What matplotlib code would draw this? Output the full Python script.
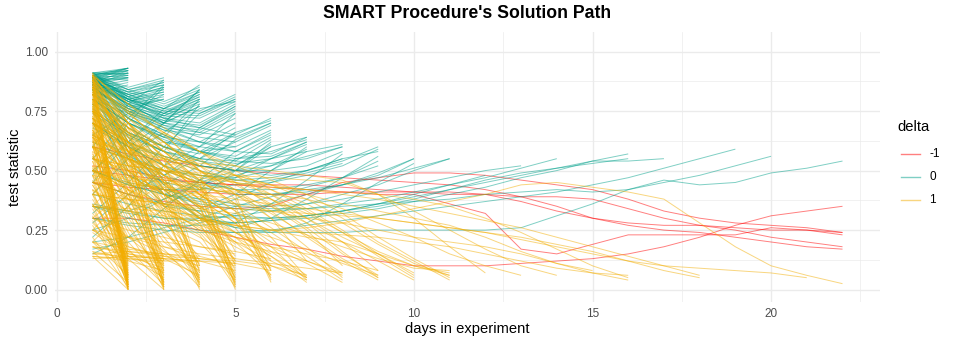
import numpy as np
import matplotlib
matplotlib.use("Agg")
import matplotlib.pyplot as plt
from matplotlib.lines import Line2D

plt.rcParams['font.family'] = ['Liberation Sans', 'DejaVu Sans']

# ---------------- data (test statistic per day, each path starts at day 1) ----------------
delta_labels = ["-1", "0", "1"]
delta_colors = ["#FF0000", "#00A08A", "#F2AD00"]

red_paths = [
    [0.30, 0.30, 0.28, 0.25, 0.22, 0.19, 0.17, 0.14, 0.12, 0.10, 0.10, 0.10, 0.11, 0.12, 0.13, 0.15, 0.18, 0.22, 0.27, 0.31, 0.33, 0.35],
    [0.45, 0.40, 0.37, 0.35, 0.34, 0.35, 0.40, 0.45, 0.47, 0.49, 0.49, 0.48, 0.46, 0.44, 0.42, 0.38, 0.33, 0.30, 0.28, 0.27, 0.26, 0.24],
    [0.52, 0.50, 0.47, 0.45, 0.44, 0.43, 0.42, 0.41, 0.40, 0.40, 0.36, 0.32, 0.17, 0.15, 0.19, 0.23, 0.23, 0.23, 0.23, 0.26, 0.25, 0.23],
    [0.45, 0.43, 0.42, 0.41, 0.40, 0.40, 0.40, 0.41, 0.41, 0.41, 0.40, 0.40, 0.39, 0.39, 0.38, 0.34, 0.30, 0.27, 0.25, 0.22, 0.20, 0.18],
    [0.50, 0.48, 0.46, 0.45, 0.44, 0.44, 0.44, 0.43, 0.42, 0.41, 0.41, 0.40, 0.37, 0.33, 0.30, 0.27, 0.25, 0.24, 0.22, 0.20, 0.18, 0.17],
    [0.60, 0.57, 0.54, 0.52, 0.50, 0.49, 0.48, 0.47, 0.46, 0.45, 0.44, 0.42, 0.39, 0.35, 0.30, 0.28, 0.27, 0.27, 0.26, 0.25, 0.25, 0.24],
]

teal_end2 = [
    [0.91, 0.93], [0.90, 0.93], [0.91, 0.92], [0.89, 0.92], [0.90, 0.92], [0.88, 0.91],
    [0.90, 0.91], [0.89, 0.90], [0.87, 0.90], [0.91, 0.90], [0.88, 0.89], [0.86, 0.89],
    [0.89, 0.88], [0.85, 0.88], [0.90, 0.93], [0.87, 0.92], [0.84, 0.87], [0.82, 0.86],
    [0.91, 0.91], [0.88, 0.93], [0.86, 0.91], [0.90, 0.89], [0.89, 0.93], [0.87, 0.89],
]
teal_end3 = [
    [0.90, 0.85, 0.89], [0.89, 0.84, 0.88], [0.91, 0.84, 0.87], [0.88, 0.83, 0.87],
    [0.90, 0.83, 0.86], [0.87, 0.82, 0.86], [0.89, 0.81, 0.85], [0.86, 0.82, 0.84],
    [0.88, 0.80, 0.84], [0.85, 0.80, 0.83], [0.90, 0.79, 0.82], [0.87, 0.78, 0.81],
    [0.84, 0.77, 0.80], [0.91, 0.81, 0.85], [0.86, 0.79, 0.83], [0.89, 0.76, 0.80],
    [0.55, 0.72, 0.86], [0.60, 0.78, 0.88], [0.48, 0.70, 0.85], [0.65, 0.74, 0.82],
]
teal_end4 = [
    [0.90, 0.84, 0.79, 0.85], [0.88, 0.83, 0.78, 0.84], [0.89, 0.82, 0.77, 0.83],
    [0.87, 0.80, 0.76, 0.83], [0.90, 0.81, 0.76, 0.82], [0.86, 0.80, 0.75, 0.81],
    [0.88, 0.79, 0.74, 0.81], [0.85, 0.78, 0.74, 0.80], [0.89, 0.77, 0.73, 0.79],
    [0.84, 0.76, 0.72, 0.78], [0.87, 0.78, 0.70, 0.77], [0.82, 0.75, 0.71, 0.79],
    [0.91, 0.80, 0.73, 0.80], [0.80, 0.74, 0.70, 0.77], [0.87, 0.66, 0.58, 0.78],
    [0.89, 0.72, 0.64, 0.80], [0.85, 0.60, 0.70, 0.84], [0.40, 0.55, 0.70, 0.84],
    [0.45, 0.62, 0.74, 0.82], [0.50, 0.62, 0.76, 0.86],
]
teal_end5 = [
    [0.89, 0.82, 0.76, 0.75, 0.82], [0.90, 0.80, 0.75, 0.74, 0.81], [0.88, 0.81, 0.74, 0.73, 0.80],
    [0.87, 0.79, 0.73, 0.72, 0.79], [0.86, 0.78, 0.72, 0.70, 0.78], [0.89, 0.77, 0.71, 0.69, 0.77],
    [0.85, 0.76, 0.70, 0.68, 0.76], [0.84, 0.75, 0.69, 0.67, 0.75], [0.88, 0.74, 0.68, 0.66, 0.74],
    [0.83, 0.73, 0.67, 0.65, 0.72], [0.80, 0.70, 0.64, 0.62, 0.70], [0.86, 0.72, 0.62, 0.60, 0.68],
    [0.78, 0.68, 0.60, 0.57, 0.65], [0.75, 0.65, 0.58, 0.55, 0.62], [0.82, 0.70, 0.63, 0.58, 0.60],
    [0.88, 0.62, 0.48, 0.55, 0.66], [0.90, 0.70, 0.52, 0.60, 0.74], [0.82, 0.56, 0.66, 0.76, 0.79],
    [0.32, 0.45, 0.60, 0.74, 0.80], [0.22, 0.35, 0.52, 0.68, 0.77],
]
teal_end6 = [
    [0.88, 0.80, 0.72, 0.68, 0.65, 0.72], [0.86, 0.78, 0.70, 0.66, 0.64, 0.70],
    [0.84, 0.76, 0.69, 0.64, 0.62, 0.69], [0.85, 0.74, 0.67, 0.62, 0.60, 0.67],
    [0.82, 0.72, 0.65, 0.60, 0.58, 0.66], [0.80, 0.70, 0.62, 0.58, 0.56, 0.64],
    [0.78, 0.66, 0.60, 0.55, 0.54, 0.63], [0.74, 0.64, 0.58, 0.54, 0.52, 0.61],
    [0.70, 0.60, 0.56, 0.52, 0.50, 0.60], [0.86, 0.58, 0.44, 0.52, 0.63, 0.70],
    [0.84, 0.55, 0.40, 0.38, 0.50, 0.62], [0.28, 0.40, 0.48, 0.58, 0.66, 0.71],
    [0.15, 0.22, 0.34, 0.46, 0.58, 0.65],
]
teal_end7 = [
    [0.85, 0.75, 0.68, 0.62, 0.58, 0.57, 0.64], [0.80, 0.70, 0.64, 0.58, 0.55, 0.56, 0.62],
    [0.76, 0.66, 0.60, 0.55, 0.53, 0.55, 0.61], [0.70, 0.62, 0.56, 0.52, 0.50, 0.52, 0.59],
    [0.60, 0.55, 0.50, 0.48, 0.47, 0.50, 0.58], [0.80, 0.50, 0.36, 0.42, 0.55, 0.58, 0.63],
    [0.78, 0.48, 0.40, 0.46, 0.52, 0.60, 0.64], [0.25, 0.30, 0.38, 0.45, 0.50, 0.55, 0.62],
    [0.90, 0.64, 0.46, 0.34, 0.40, 0.50, 0.60],
]
teal_end8 = [
    [0.82, 0.72, 0.65, 0.58, 0.54, 0.53, 0.55, 0.60], [0.75, 0.65, 0.58, 0.52, 0.50, 0.50, 0.52, 0.58],
    [0.68, 0.60, 0.52, 0.48, 0.46, 0.47, 0.50, 0.55], [0.50, 0.45, 0.42, 0.42, 0.44, 0.46, 0.49, 0.53],
    [0.75, 0.52, 0.45, 0.42, 0.47, 0.55, 0.58, 0.61], [0.35, 0.33, 0.38, 0.44, 0.48, 0.52, 0.56, 0.60],
    [0.88, 0.60, 0.42, 0.30, 0.28, 0.36, 0.46, 0.57],
]
teal_end9 = [
    [0.80, 0.68, 0.60, 0.54, 0.50, 0.48, 0.50, 0.54, 0.60], [0.72, 0.62, 0.55, 0.50, 0.46, 0.45, 0.48, 0.52, 0.59],
    [0.65, 0.56, 0.50, 0.45, 0.42, 0.42, 0.44, 0.47, 0.54], [0.20, 0.22, 0.26, 0.30, 0.35, 0.39, 0.43, 0.47, 0.52],
    [0.70, 0.45, 0.35, 0.33, 0.38, 0.45, 0.50, 0.55, 0.58], [0.86, 0.62, 0.44, 0.32, 0.26, 0.30, 0.38, 0.47, 0.56],
]
teal_end10 = [
    [0.70, 0.60, 0.52, 0.46, 0.42, 0.40, 0.41, 0.44, 0.48, 0.55],
    [0.17, 0.20, 0.24, 0.28, 0.32, 0.36, 0.40, 0.44, 0.49, 0.55],
    [0.84, 0.58, 0.40, 0.30, 0.26, 0.24, 0.28, 0.36, 0.45, 0.53],
]
teal_end11 = [
    [0.62, 0.55, 0.48, 0.43, 0.40, 0.40, 0.42, 0.44, 0.47, 0.51, 0.55],
    [0.35, 0.32, 0.30, 0.30, 0.31, 0.33, 0.36, 0.40, 0.44, 0.50, 0.55],
]
teal_long = [
    [0.30, 0.28, 0.27, 0.27, 0.28, 0.29, 0.31, 0.33, 0.36, 0.40, 0.44, 0.48],
    [0.55, 0.48, 0.42, 0.38, 0.36, 0.35, 0.36, 0.38, 0.41, 0.44, 0.47, 0.50, 0.52],
    [0.50, 0.44, 0.40, 0.36, 0.34, 0.33, 0.34, 0.36, 0.38, 0.41, 0.44, 0.47, 0.51, 0.55],
    [0.45, 0.40, 0.36, 0.33, 0.31, 0.30, 0.31, 0.33, 0.36, 0.39, 0.42, 0.45, 0.48, 0.51, 0.54, 0.57],
    [0.40, 0.36, 0.33, 0.31, 0.30, 0.30, 0.31, 0.33, 0.35, 0.38, 0.42, 0.46, 0.49, 0.51, 0.53, 0.55],
    [0.36, 0.33, 0.30, 0.29, 0.28, 0.29, 0.30, 0.32, 0.34, 0.37, 0.40, 0.43, 0.47, 0.50, 0.54, 0.54, 0.55],
    [0.30, 0.27, 0.25, 0.24, 0.24, 0.25, 0.27, 0.29, 0.31, 0.33, 0.35, 0.37, 0.39, 0.41, 0.44, 0.47, 0.51, 0.55, 0.59],
    [0.35, 0.30, 0.27, 0.25, 0.24, 0.24, 0.24, 0.24, 0.25, 0.25, 0.25, 0.25, 0.26, 0.31, 0.36, 0.42, 0.45, 0.48, 0.52, 0.56],
    [0.50, 0.44, 0.40, 0.37, 0.35, 0.34, 0.34, 0.35, 0.36, 0.37, 0.38, 0.40, 0.41, 0.42, 0.41, 0.42, 0.46, 0.44, 0.45, 0.49, 0.51, 0.54],
]

yellow_end2 = [
    [0.91, 0.01], [0.89, 0.03], [0.88, 0.00], [0.87, 0.05], [0.86, 0.02], [0.85, 0.08],
    [0.84, 0.04], [0.83, 0.12], [0.82, 0.01], [0.80, 0.06], [0.79, 0.15], [0.78, 0.03],
    [0.76, 0.10], [0.75, 0.00], [0.73, 0.07], [0.72, 0.18], [0.70, 0.02], [0.68, 0.05],
    [0.66, 0.13], [0.65, 0.01], [0.63, 0.09], [0.61, 0.04], [0.60, 0.16], [0.58, 0.02],
    [0.56, 0.11], [0.54, 0.06], [0.52, 0.00], [0.50, 0.14], [0.48, 0.03], [0.46, 0.08],
    [0.44, 0.19], [0.42, 0.01], [0.40, 0.05], [0.38, 0.12], [0.36, 0.02], [0.34, 0.07],
    [0.31, 0.00], [0.29, 0.10], [0.27, 0.04], [0.25, 0.15], [0.22, 0.01], [0.20, 0.06],
    [0.18, 0.11], [0.16, 0.03], [0.14, 0.00], [0.90, 0.06], [0.77, 0.02], [0.64, 0.00],
]
yellow_end3 = [
    [0.90, 0.62, 0.05], [0.88, 0.58, 0.02], [0.87, 0.55, 0.10], [0.85, 0.52, 0.00], [0.84, 0.60, 0.07],
    [0.82, 0.48, 0.03], [0.80, 0.50, 0.12], [0.79, 0.45, 0.01], [0.77, 0.42, 0.06], [0.75, 0.46, 0.09],
    [0.73, 0.40, 0.02], [0.71, 0.38, 0.14], [0.69, 0.36, 0.04], [0.67, 0.33, 0.00], [0.65, 0.35, 0.08],
    [0.62, 0.30, 0.11], [0.60, 0.28, 0.03], [0.57, 0.26, 0.06], [0.54, 0.24, 0.01], [0.51, 0.22, 0.10],
    [0.48, 0.20, 0.04], [0.44, 0.18, 0.13], [0.40, 0.17, 0.02], [0.36, 0.16, 0.07], [0.32, 0.15, 0.12],
    [0.28, 0.14, 0.05], [0.24, 0.14, 0.09], [0.20, 0.13, 0.11], [0.16, 0.13, 0.00], [0.14, 0.12, 0.08],
    [0.25, 0.40, 0.08], [0.50, 0.62, 0.03], [0.40, 0.58, 0.01], [0.55, 0.68, 0.12],
]
yellow_end4 = [
    [0.90, 0.70, 0.45, 0.03], [0.88, 0.66, 0.42, 0.08], [0.86, 0.64, 0.40, 0.01], [0.85, 0.60, 0.38, 0.12],
    [0.83, 0.62, 0.35, 0.05], [0.81, 0.58, 0.33, 0.00], [0.79, 0.55, 0.36, 0.10], [0.77, 0.52, 0.30, 0.04],
    [0.75, 0.50, 0.28, 0.14], [0.72, 0.48, 0.32, 0.02], [0.70, 0.46, 0.26, 0.07], [0.67, 0.44, 0.24, 0.11],
    [0.64, 0.42, 0.22, 0.03], [0.60, 0.40, 0.20, 0.09], [0.56, 0.38, 0.25, 0.06], [0.52, 0.35, 0.18, 0.13],
    [0.48, 0.32, 0.17, 0.01], [0.42, 0.28, 0.16, 0.08], [0.35, 0.22, 0.15, 0.05], [0.25, 0.18, 0.14, 0.10],
    [0.18, 0.15, 0.13, 0.12], [0.15, 0.14, 0.13, 0.06], [0.45, 0.55, 0.48, 0.02], [0.35, 0.50, 0.40, 0.10],
    [0.62, 0.70, 0.52, 0.04], [0.90, 0.52, 0.55, 0.07],
]
yellow_end5 = [
    [0.91, 0.75, 0.60, 0.48, 0.04], [0.89, 0.72, 0.58, 0.45, 0.10], [0.88, 0.70, 0.55, 0.42, 0.01],
    [0.86, 0.68, 0.56, 0.44, 0.16], [0.85, 0.66, 0.52, 0.40, 0.06], [0.83, 0.64, 0.50, 0.38, 0.02],
    [0.82, 0.62, 0.48, 0.36, 0.12], [0.80, 0.60, 0.46, 0.34, 0.08], [0.78, 0.58, 0.45, 0.35, 0.00],
    [0.76, 0.56, 0.43, 0.32, 0.14], [0.74, 0.55, 0.42, 0.30, 0.05], [0.72, 0.53, 0.40, 0.31, 0.19],
    [0.70, 0.52, 0.38, 0.28, 0.03], [0.67, 0.50, 0.36, 0.27, 0.09], [0.64, 0.48, 0.35, 0.25, 0.11],
    [0.60, 0.45, 0.33, 0.24, 0.07], [0.55, 0.42, 0.31, 0.23, 0.01], [0.50, 0.38, 0.30, 0.22, 0.13],
    [0.42, 0.33, 0.27, 0.20, 0.04], [0.30, 0.25, 0.22, 0.18, 0.15], [0.20, 0.17, 0.15, 0.14, 0.10],
    [0.14, 0.13, 0.12, 0.12, 0.08], [0.30, 0.42, 0.50, 0.35, 0.05], [0.20, 0.35, 0.45, 0.30, 0.12],
    [0.18, 0.16, 0.15, 0.13, 0.11], [0.88, 0.58, 0.66, 0.50, 0.03], [0.66, 0.40, 0.52, 0.44, 0.02],
]
yellow_end6 = [
    [0.90, 0.78, 0.65, 0.52, 0.40, 0.04], [0.87, 0.74, 0.62, 0.50, 0.38, 0.08],
    [0.84, 0.70, 0.58, 0.46, 0.35, 0.03], [0.80, 0.66, 0.54, 0.43, 0.33, 0.12],
    [0.76, 0.62, 0.50, 0.40, 0.30, 0.06], [0.72, 0.58, 0.48, 0.38, 0.28, 0.10],
    [0.66, 0.54, 0.44, 0.35, 0.26, 0.05], [0.58, 0.48, 0.40, 0.32, 0.24, 0.15],
    [0.45, 0.38, 0.32, 0.27, 0.22, 0.09], [0.25, 0.22, 0.20, 0.18, 0.16, 0.13],
    [0.60, 0.50, 0.55, 0.40, 0.30, 0.08], [0.90, 0.68, 0.45, 0.32, 0.20, 0.06],
    [0.13, 0.14, 0.13, 0.12, 0.11, 0.08],
]
yellow_end7 = [
    [0.85, 0.70, 0.58, 0.46, 0.36, 0.22, 0.05], [0.80, 0.64, 0.52, 0.42, 0.30, 0.18, 0.04],
    [0.75, 0.60, 0.48, 0.38, 0.28, 0.16, 0.06], [0.70, 0.58, 0.45, 0.35, 0.24, 0.14, 0.03],
    [0.60, 0.50, 0.40, 0.30, 0.20, 0.12, 0.05], [0.50, 0.42, 0.34, 0.26, 0.18, 0.10, 0.04],
    [0.70, 0.58, 0.62, 0.50, 0.42, 0.30, 0.12], [0.88, 0.62, 0.42, 0.30, 0.22, 0.14, 0.05],
    [0.15, 0.16, 0.14, 0.13, 0.12, 0.10, 0.06],
]
yellow_end8 = [
    [0.88, 0.74, 0.62, 0.50, 0.40, 0.30, 0.18, 0.05], [0.80, 0.68, 0.56, 0.46, 0.36, 0.26, 0.16, 0.07],
    [0.72, 0.62, 0.52, 0.42, 0.33, 0.24, 0.14, 0.04], [0.64, 0.55, 0.47, 0.40, 0.30, 0.20, 0.12, 0.06],
    [0.45, 0.40, 0.35, 0.30, 0.24, 0.18, 0.11, 0.03], [0.82, 0.65, 0.52, 0.55, 0.45, 0.35, 0.25, 0.10],
    [0.80, 0.55, 0.35, 0.25, 0.20, 0.16, 0.12, 0.07], [0.30, 0.22, 0.18, 0.15, 0.13, 0.11, 0.09, 0.07],
]
yellow_end9 = [
    [0.90, 0.78, 0.68, 0.58, 0.48, 0.38, 0.28, 0.16, 0.05], [0.82, 0.72, 0.62, 0.52, 0.44, 0.36, 0.26, 0.15, 0.06],
    [0.75, 0.66, 0.58, 0.50, 0.42, 0.33, 0.22, 0.12, 0.04], [0.60, 0.55, 0.50, 0.45, 0.40, 0.32, 0.23, 0.13, 0.05],
    [0.35, 0.34, 0.33, 0.30, 0.27, 0.22, 0.17, 0.11, 0.06], [0.75, 0.60, 0.50, 0.45, 0.48, 0.40, 0.30, 0.20, 0.08],
    [0.85, 0.60, 0.40, 0.28, 0.22, 0.18, 0.15, 0.12, 0.08],
]
yellow_end10 = [
    [0.86, 0.75, 0.66, 0.58, 0.50, 0.42, 0.34, 0.25, 0.15, 0.06],
    [0.70, 0.62, 0.55, 0.50, 0.45, 0.40, 0.33, 0.24, 0.14, 0.05],
    [0.50, 0.47, 0.45, 0.43, 0.40, 0.35, 0.28, 0.20, 0.12, 0.04],
    [0.65, 0.55, 0.48, 0.40, 0.42, 0.38, 0.30, 0.22, 0.15, 0.07],
]
yellow_end11 = [
    [0.88, 0.76, 0.66, 0.58, 0.52, 0.46, 0.40, 0.32, 0.22, 0.13, 0.05],
    [0.78, 0.68, 0.60, 0.54, 0.48, 0.44, 0.38, 0.30, 0.20, 0.12, 0.04],
    [0.65, 0.58, 0.52, 0.48, 0.45, 0.42, 0.36, 0.28, 0.19, 0.11, 0.06],
    [0.55, 0.50, 0.46, 0.44, 0.42, 0.38, 0.32, 0.24, 0.16, 0.10, 0.07],
    [0.40, 0.38, 0.36, 0.34, 0.32, 0.28, 0.23, 0.18, 0.13, 0.09, 0.08],
    [0.90, 0.70, 0.55, 0.40, 0.30, 0.25, 0.22, 0.20, 0.15, 0.10, 0.06],
]
yellow_long = [
    [0.62, 0.58, 0.55, 0.53, 0.52, 0.50, 0.48, 0.46, 0.40, 0.30, 0.18, 0.07],
    [0.45, 0.44, 0.43, 0.42, 0.41, 0.40, 0.38, 0.34, 0.28, 0.22, 0.15, 0.10, 0.06],
    [0.55, 0.52, 0.50, 0.49, 0.48, 0.47, 0.46, 0.45, 0.40, 0.33, 0.25, 0.17, 0.10, 0.06],
    [0.70, 0.62, 0.56, 0.52, 0.48, 0.44, 0.40, 0.36, 0.33, 0.30, 0.27, 0.22, 0.16, 0.11, 0.08],
    [0.60, 0.55, 0.50, 0.47, 0.45, 0.43, 0.42, 0.41, 0.40, 0.38, 0.35, 0.30, 0.24, 0.17, 0.10, 0.05],
    [0.50, 0.46, 0.42, 0.39, 0.36, 0.33, 0.30, 0.28, 0.25, 0.22, 0.20, 0.18, 0.15, 0.11, 0.07, 0.04],
    [0.35, 0.33, 0.31, 0.29, 0.27, 0.25, 0.24, 0.23, 0.22, 0.20, 0.18, 0.15, 0.12, 0.09, 0.07, 0.06],
    [0.55, 0.52, 0.50, 0.48, 0.46, 0.44, 0.42, 0.40, 0.38, 0.35, 0.32, 0.29, 0.26, 0.22, 0.18, 0.14, 0.10, 0.06],
    [0.48, 0.45, 0.42, 0.40, 0.38, 0.36, 0.34, 0.32, 0.30, 0.28, 0.26, 0.24, 0.22, 0.19, 0.16, 0.12, 0.08, 0.05],
    [0.40, 0.38, 0.36, 0.35, 0.34, 0.33, 0.32, 0.31, 0.30, 0.28, 0.26, 0.24, 0.21, 0.18, 0.15, 0.12, 0.10, 0.09, 0.08, 0.07, 0.05],
    [0.50, 0.42, 0.36, 0.30, 0.27, 0.25, 0.26, 0.28, 0.31, 0.34, 0.37, 0.40, 0.44, 0.45, 0.43, 0.41, 0.38, 0.28, 0.18, 0.10, 0.06, 0.025],
]

red_groups = [red_paths]
teal_groups = [teal_end2, teal_end3, teal_end4, teal_end5, teal_end6, teal_end7,
               teal_end8, teal_end9, teal_end10, teal_end11, teal_long]
yellow_groups = [yellow_end2, yellow_end3, yellow_end4, yellow_end5, yellow_end6, yellow_end7,
                 yellow_end8, yellow_end9, yellow_end10, yellow_end11, yellow_long]

x_ticks = [0, 5, 10, 15, 20]
y_ticks = [0.00, 0.25, 0.50, 0.75, 1.00]
y_tick_labels = ["0.00", "0.25", "0.50", "0.75", "1.00"]

# ---------------- figure ----------------
W, H = 955, 343
fig = plt.figure(figsize=(W / 100, H / 100), dpi=100)
ax = fig.add_axes([55 / W, 1 - 302 / H, 825 / W, 270 / H])

LW = 0.7
ALPHA = 0.5
for groups, col in [(red_groups, delta_colors[0]), (teal_groups, delta_colors[1]),
                    (yellow_groups, delta_colors[2])]:
    for grp in groups:
        for path in grp:
            days = np.arange(1, len(path) + 1)
            ax.plot(days, path, color=col, lw=LW, alpha=ALPHA, solid_capstyle='butt',
                    solid_joinstyle='round', zorder=2)

ax.set_xlim(-0.05, 23.05)
ax.set_ylim(-0.052, 1.082)
ax.set_xticks(x_ticks)
ax.set_xticks([2.5, 7.5, 12.5, 17.5, 22.5], minor=True)
ax.set_yticks(y_ticks)
ax.set_yticklabels(y_tick_labels)
ax.set_yticks([0.125, 0.375, 0.625, 0.875], minor=True)
ax.grid(True, which='major', color='#EBEBEB', lw=1.0, zorder=0)
ax.grid(True, which='minor', color='#EBEBEB', lw=0.5, zorder=0)
ax.set_axisbelow(True)
for s in ax.spines.values():
    s.set_visible(False)
ax.tick_params(which='both', length=0)
ax.tick_params(axis='both', labelsize=8.45, labelcolor='#4D4D4D')
ax.tick_params(axis='x', pad=4)
ax.tick_params(axis='y', pad=5)

ax.set_xlabel("days in experiment", fontsize=10.6, labelpad=2)
ax.set_ylabel("test statistic", fontsize=10.6, labelpad=2)

fig.text(467 / W, 1 - 14 / H, "SMART Procedure's Solution Path", ha='center', va='center',
         fontsize=12.7, fontweight='bold')

# legend
fig.text(897 / W, 1 - 127 / H, "delta", ha='left', va='center', fontsize=10.6)
for lab, col, yy in zip(delta_labels, delta_colors, [154, 177, 200]):
    fig.add_artist(Line2D([901 / W, 920 / W], [1 - yy / H, 1 - yy / H], color=col,
                          lw=1.0, alpha=ALPHA, transform=fig.transFigure))
    fig.text(929 / W, 1 - yy / H, lab, ha='left', va='center', fontsize=8.45)

fig.savefig("out.png", dpi=100, facecolor='white')
